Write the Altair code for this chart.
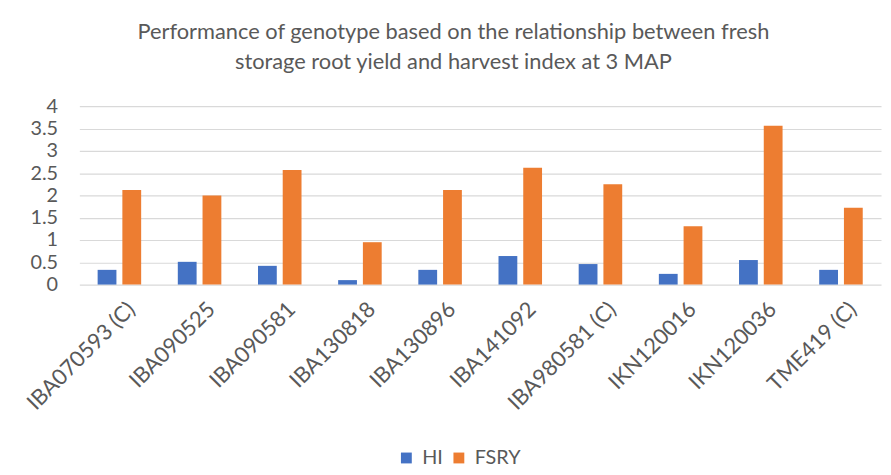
import altair as alt
import pandas as pd

genotypes = ["IBA070593 (C)", "IBA090525", "IBA090581", "IBA130818", "IBA130896",
             "IBA141092", "IBA980581 (C)", "IKN120016", "IKN120036", "TME419 (C)"]
hi = [0.33, 0.51, 0.42, 0.10, 0.33, 0.64, 0.46, 0.24, 0.55, 0.33]
fsry = [2.12, 2.00, 2.57, 0.95, 2.12, 2.62, 2.25, 1.31, 3.56, 1.72]
series = ["HI", "FSRY"]
colors = ["#4472C4", "#ED7D31"]
y_ticks = [0, 0.5, 1, 1.5, 2, 2.5, 3, 3.5, 4]

rows = []
for g, h, f in zip(genotypes, hi, fsry):
    rows.append({"Genotype": g, "Series": "HI", "Value": h})
    rows.append({"Genotype": g, "Series": "FSRY", "Value": f})
df = pd.DataFrame(rows)

FONT = "Lato"
GRAY = "#595959"

chart = alt.Chart(df).mark_bar().encode(
    x=alt.X("Genotype:N", sort=genotypes,
            scale=alt.Scale(paddingInner=0.457, paddingOuter=0.228),
            axis=alt.Axis(title=None, labelAngle=-45, labelFontSize=22, labelFont=FONT,
                          labelColor=GRAY, ticks=False, domain=False, labelPadding=14,
                          labelOffset=5)),
    xOffset=alt.XOffset("Series:N", sort=series, scale=alt.Scale(paddingInner=0.24)),
    y=alt.Y("Value:Q", scale=alt.Scale(domain=[0, 4]),
            axis=alt.Axis(title=None, values=y_ticks, format="~g", labelFontSize=20,
                          labelFont=FONT, labelColor=GRAY, ticks=False, domain=False,
                          labelPadding=22, gridColor="#d9d9d9", gridWidth=1.2,
                          labelFlush=False)),
    color=alt.Color("Series:N", sort=series,
                    scale=alt.Scale(domain=series, range=colors),
                    legend=alt.Legend(title=None, orient="none", direction="horizontal",
                                      legendX=320, legendY=345, symbolType="square",
                                      symbolSize=120, labelFontSize=20, labelFont=FONT,
                                      labelColor=GRAY, columnPadding=6, labelOffset=6,
                                      symbolStrokeWidth=0)),
).properties(
    width=809,
    height=180,
    title=alt.TitleParams(
        text=["Performance of genotype based on the relationship between fresh",
              "storage root yield and harvest index at 3 MAP"],
        fontSize=22, font=FONT, color=GRAY, fontWeight="normal",
        anchor="middle", offset=23, dx=-27, lineHeight=30),
    autosize=alt.AutoSizeParams(type="none"),
    padding={"left": 72, "top": 97, "right": 2, "bottom": 182},
).configure_view(stroke=None)

chart.save("out.html", embed_options={"renderer": "svg", "actions": False})
